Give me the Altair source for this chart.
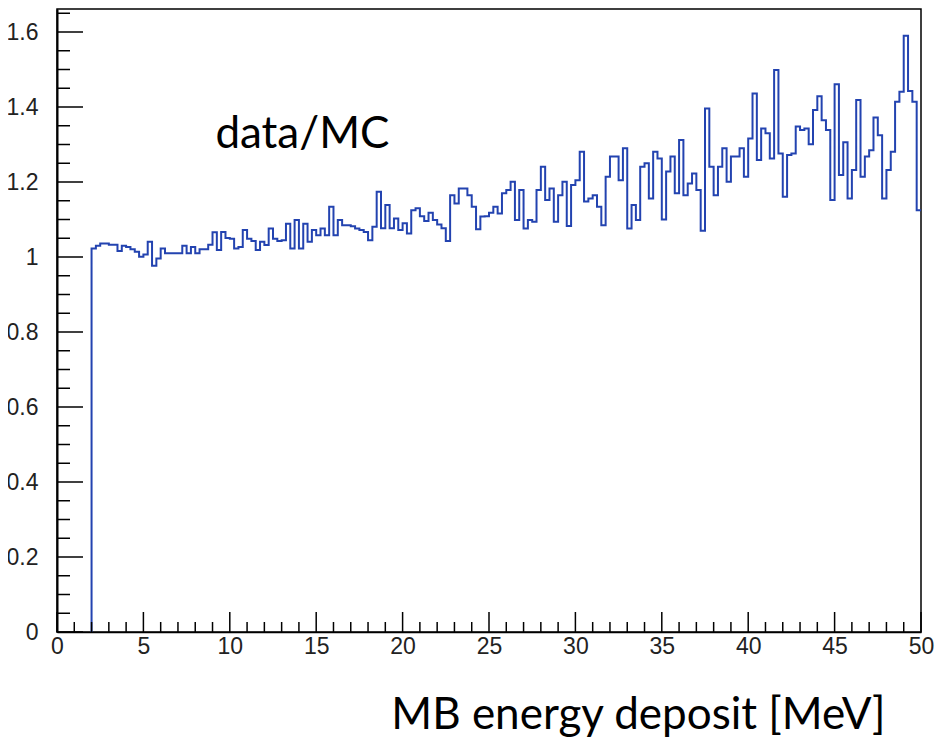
import altair as alt
import pandas as pd

# ---------------- data ----------------
BIN_START = 2.0
BIN_WIDTH = 0.25

ratio = [
    # bins 0-31  (2.00 - 9.75 MeV)
    1.023, 1.030, 1.036, 1.036, 1.033, 1.033, 1.016, 1.030, 1.027, 1.021, 1.014, 1.001, 1.007, 1.041, 0.977, 0.996,
    1.023, 1.010, 1.010, 1.010, 1.010, 1.030, 1.010, 1.027, 1.010, 1.021, 1.021, 1.033, 1.066, 1.019, 1.067, 1.051,
    # bins 32-63
    1.049, 1.023, 1.027, 1.072, 1.049, 1.043, 1.019, 1.041, 1.032, 1.076, 1.049, 1.043, 1.045, 1.089, 1.023, 1.099,
    1.023, 1.089, 1.041, 1.072, 1.058, 1.076, 1.058, 1.134, 1.058, 1.099, 1.085, 1.085, 1.082, 1.076, 1.072, 1.067,
    # bins 64-96
    1.045, 1.081, 1.174, 1.077, 1.139, 1.077, 1.103, 1.072, 1.090, 1.063, 1.125, 1.130, 1.109, 1.096, 1.118, 1.099,
    1.087, 1.077, 1.043, 1.165, 1.143, 1.183, 1.183, 1.165, 1.134, 1.074, 1.108, 1.109, 1.118, 1.134, 1.116, 1.170, 1.179,
    # bins 97-128
    1.201, 1.099, 1.179, 1.076, 1.099, 1.094, 1.179, 1.241, 1.152, 1.183, 1.094, 1.165, 1.201, 1.083, 1.192, 1.205,
    1.281, 1.148, 1.156, 1.165, 1.134, 1.085, 1.214, 1.268, 1.268, 1.205, 1.290, 1.076, 1.139, 1.099, 1.241, 1.250,
    # bins 129-161
    1.156, 1.281, 1.263, 1.100, 1.228, 1.268, 1.170, 1.312, 1.165, 1.196, 1.223, 1.179, 1.070, 1.396, 1.241, 1.165,
    1.241, 1.290, 1.201, 1.268, 1.268, 1.290, 1.214, 1.316, 1.436, 1.259, 1.343, 1.330, 1.263, 1.499, 1.276, 1.161, 1.272,
    # bins 162-191
    1.276, 1.348, 1.339, 1.343, 1.301, 1.392, 1.429, 1.365, 1.339, 1.152, 1.461, 1.219, 1.306, 1.156, 1.232, 1.419,
    1.214, 1.268, 1.285, 1.372, 1.325, 1.156, 1.232, 1.281, 1.414, 1.441, 1.590, 1.443, 1.414, 1.125,
]

y_major = [0, 0.2, 0.4, 0.6, 0.8, 1.0, 1.2, 1.4, 1.6]
y_minor = [0.05, 0.1, 0.15, 0.25, 0.3, 0.35, 0.45, 0.5, 0.55, 0.65, 0.7, 0.75,
           0.85, 0.9, 0.95, 1.05, 1.1, 1.15, 1.25, 1.3, 1.35, 1.45, 1.5, 1.55, 1.65]
x_major = [0, 5, 10, 15, 20, 25, 30, 35, 40, 45, 50]
x_minor = [v for v in range(1, 50) if v % 5 != 0]

annotation_text = ["data/MC"]
annotation_x = [14.2]
annotation_y = [1.29]
x_title = "MB energy deposit [MeV]"

# ---------------- tables ----------------
n = len(ratio)
edges = [BIN_START + BIN_WIDTH * i for i in range(n)] + [BIN_START + BIN_WIDTH * n]
step = pd.DataFrame({
    "x": [BIN_START] + edges,
    "y": [0.0] + ratio + [ratio[-1]],
    "o": list(range(n + 2)),
})
ymaj = pd.DataFrame({"y": y_major})
ymin = pd.DataFrame({"y": y_minor})
xmaj = pd.DataFrame({"x": x_major})
xmin = pd.DataFrame({"x": x_minor})
ann = pd.DataFrame({"x": annotation_x, "y": annotation_y, "t": annotation_text})

W, H = 864, 623
PX_PER_UNIT = 375.0
xs = alt.Scale(domain=[0, 50], nice=False, zero=False)
ys = alt.Scale(domain=[0, H / PX_PER_UNIT], nice=False, zero=False)

LABEL_FONT = "Liberation Sans Narrow, Arial Narrow, Liberation Sans"

x_axis = alt.Axis(
    values=x_major, format="d", grid=False, ticks=False, labelFlush=False,
    domain=True, domainColor="#000", domainWidth=1.5,
    labelFont=LABEL_FONT, labelFontSize=23, labelColor="#222",
    labelPadding=3,
    title=x_title, titleFont="Lato", titleFontSize=44, titleFontWeight="normal",
    titleColor="#000", titleAnchor="end", titleAlign="right",
    titleBaseline="alphabetic", titleX=828, titleY=96,
)
y_axis = alt.Axis(
    values=y_major, format="~g", grid=False, ticks=False,
    domain=True, domainColor="#000", domainWidth=2,
    labelFont=LABEL_FONT, labelFontSize=23, labelColor="#222",
    labelPadding=19, title=None,
)
X = lambda: alt.X("x:Q", scale=xs, axis=x_axis)
Y = lambda: alt.Y("y:Q", scale=ys, axis=y_axis)

line = alt.Chart(step).mark_line(
    interpolate="step-after", color="#2343b0", strokeWidth=2
).encode(x=X(), y=Y(), order=alt.Order("o:Q"))

def yticks(df, length):
    return alt.Chart(df).mark_rule(color="#000", strokeWidth=1.5).encode(
        y=Y(), x=alt.value(0), x2=alt.value(length),
    )

def xticks(df, length):
    return alt.Chart(df).mark_rule(color="#000", strokeWidth=1.5).encode(
        x=X(), y=alt.value(H), y2=alt.value(H - length),
    )

text = alt.Chart(ann).mark_text(
    font="Lato", fontSize=44, align="center", baseline="alphabetic", color="#000"
).encode(x=X(), y=Y(), text="t:N")

chart = alt.layer(
    line, yticks(ymaj, 26), yticks(ymin, 13), xticks(xmaj, 20), xticks(xmin, 10), text
).properties(
    width=W, height=H,
    autosize=alt.AutoSizeParams(type="none"),
    padding={"left": 49, "top": 1, "right": 16, "bottom": 106},
).configure_view(
    stroke="#000", strokeWidth=1.5
)

chart.save("out.html", embed_options={"renderer": "svg", "actions": False})
